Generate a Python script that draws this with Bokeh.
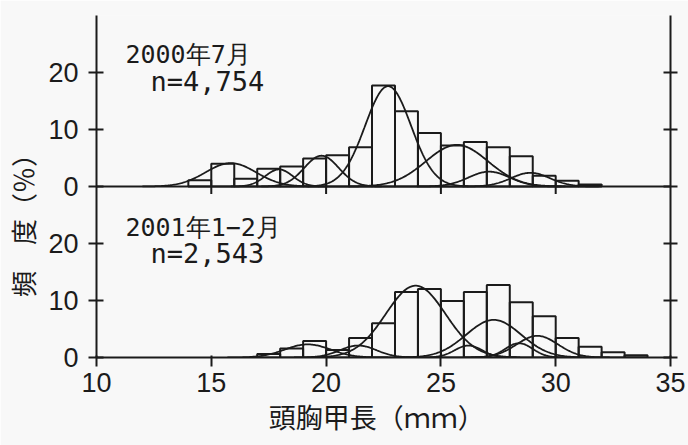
import numpy as np
from bokeh.plotting import figure
from bokeh.models import Range1d, LinearAxis, FixedTicker, Span
from bokeh.embed import file_html
from bokeh.resources import INLINE
from bokeh.core.properties import value

# ---------------- data ----------------
bin_width = 1.0
# 2000年7月 : histogram (bin left edge, mm) and frequency (%)
jul_bins = [14, 15, 16, 17, 18, 19, 20, 21, 22, 23, 24, 25, 26, 27, 28, 29, 30, 31]
jul_pct = [1.1, 4.0, 1.35, 3.1, 3.5, 4.9, 5.5, 6.9, 17.7, 13.2, 9.4, 7.2, 7.8, 6.9, 5.3, 1.9, 1.0, 0.35]
# fitted normal components (mean mm, sd mm, peak %)
jul_mean = [15.85, 17.95, 19.8, 22.7, 25.7, 27.1, 28.9]
jul_sd = [1.1, 0.6, 0.75, 1.0, 1.35, 0.9, 0.85]
jul_peak = [4.1, 3.0, 5.4, 17.6, 7.3, 2.6, 2.4]

# 2001年1-2月
jan_bins = [17, 18, 19, 20, 21, 22, 23, 24, 25, 26, 27, 28, 29, 30, 31, 32, 33]
jan_pct = [0.6, 1.6, 2.9, 1.3, 3.4, 6.0, 11.5, 12.0, 9.9, 11.5, 12.7, 9.7, 7.25, 3.4, 1.9, 0.9, 0.4]
jan_mean = [19.2, 21.4, 23.9, 26.2, 27.3, 28.4, 29.2]
jan_sd = [1.0, 0.8, 1.3, 0.6, 1.2, 0.6, 0.9]
jan_peak = [2.3, 2.1, 12.6, 2.1, 6.6, 2.5, 3.8]

x_ticks = [10, 15, 20, 25, 30, 35]
y_tick_labels = ["0", "10", "20"]
top_title = ["2000年7月", "n=4,754"]
bottom_title = ["2001年1−2月", "n=2,543"]
x_label = "頭胸甲長（ｍｍ）"
y_label = "頻　度（％）"

# ---------------- styling ----------------
INK = "#1b1b1b"
PAPER = "#f8f8f8"
NUM_FONT = "Liberation Sans"
CJK_FONT = "Noto Sans CJK JP"
MONO_FONT = "DejaVu Sans Mono"
IDEO_SPACE = "\u3000"

PANEL = 30  # each panel spans 0-30 %

p = figure(width=688, height=445, output_backend="svg", toolbar_location=None,
           x_range=Range1d(10, 35), y_range=Range1d(0, 2 * PANEL),
           x_axis_type=None, y_axis_type=None,
           min_border_left=96, min_border_right=18, min_border_top=15,
           min_border_bottom=88)
p.extra_y_ranges = {"top": Range1d(-PANEL, PANEL)}
p.background_fill_color = PAPER
p.border_fill_color = PAPER
p.outline_line_color = None
p.xgrid.visible = False
p.ygrid.visible = False

# y ticks: lower panel 0,10,20 ; upper panel 0,10,20 (at +30)
y_vals = [0, 10, 20]
ticks = y_vals + [v + PANEL for v in y_vals]
overrides = {}
for v, lab in zip(y_vals, y_tick_labels):
    overrides[v] = lab
    overrides[v + PANEL] = lab

left = LinearAxis(ticker=FixedTicker(ticks=ticks), major_label_overrides=overrides)
right = LinearAxis(ticker=FixedTicker(ticks=ticks),
                   major_label_overrides={t: "" for t in ticks},
                   major_label_standoff=0)
bottom = LinearAxis(ticker=FixedTicker(ticks=x_ticks))
for ax in (left, right, bottom):
    ax.axis_line_color = INK
    ax.axis_line_width = 2
    ax.major_tick_line_color = INK
    ax.major_tick_line_width = 2
    ax.minor_tick_line_color = None
    ax.major_label_text_color = INK
    ax.major_label_text_font = NUM_FONT
    ax.axis_label_text_color = INK
    ax.axis_label_text_font = CJK_FONT
    ax.axis_label_text_font_style = "normal"
left.major_tick_in = 7
left.major_tick_out = 8
left.major_label_standoff = 10
left.major_label_text_font_size = "27px"
left.axis_label = y_label + IDEO_SPACE * 3
left.axis_label_text_font_size = "26px"
left.axis_label_standoff = 4
right.major_tick_in = 7
right.major_tick_out = 7
bottom.major_tick_in = 2
bottom.major_tick_out = 9
bottom.major_label_standoff = 6
bottom.major_label_text_font_size = "27px"
bottom.axis_label = x_label + IDEO_SPACE
bottom.axis_label_text_font_size = "27px"
bottom.axis_label_standoff = 2
p.add_layout(left, "left")
p.add_layout(right, "right")
p.add_layout(bottom, "below")

# baseline of the upper panel and its tick marks
p.add_layout(Span(location=0, dimension="width", y_range_name="top",
                  line_color=INK, line_width=2))
mid_ticks = x_ticks[1:-1]
p.segment(x0=mid_ticks, x1=mid_ticks, y0=[0] * len(mid_ticks), y1=[-1.3] * len(mid_ticks),
          y_range_name="top", line_color=INK, line_width=2)


def draw_panel(bins, pct, means, sds, peaks, range_name):
    b = np.array(bins, dtype=float)
    kw = {} if range_name is None else {"y_range_name": range_name}
    p.quad(left=b, right=b + bin_width, bottom=0, top=pct, fill_color=None,
           line_color=INK, line_width=2, **kw)
    xs, ys = [], []
    for m, s, h in zip(means, sds, peaks):
        x = np.linspace(m - 3.5 * s, m + 3.5 * s, 160)
        xs.append(x)
        ys.append(h * np.exp(-0.5 * ((x - m) / s) ** 2))
    p.multi_line(xs=xs, ys=ys, line_color=INK, line_width=1.8, **kw)


draw_panel(jul_bins, jul_pct, jul_mean, jul_sd, jul_peak, "top")
draw_panel(jan_bins, jan_pct, jan_mean, jan_sd, jan_peak, None)

# panel captions
p.text(x=[11.26], y=[23.2], text=[top_title[0]], y_range_name="top",
       text_font=value(MONO_FONT), text_font_size="25px", text_color=INK,
       text_align="left", text_baseline="middle")
p.text(x=[12.35], y=[18.4], text=[top_title[1]], y_range_name="top",
       text_font=value(MONO_FONT), text_font_size="27px", text_color=INK,
       text_align="left", text_baseline="middle")
p.text(x=[11.26], y=[22.8], text=[bottom_title[0]],
       text_font=value(MONO_FONT), text_font_size="25px", text_color=INK,
       text_align="left", text_baseline="middle")
p.text(x=[12.35], y=[18.2], text=[bottom_title[1]],
       text_font=value(MONO_FONT), text_font_size="27px", text_color=INK,
       text_align="left", text_baseline="middle")

open("out.html", "w").write(file_html(p, INLINE))
